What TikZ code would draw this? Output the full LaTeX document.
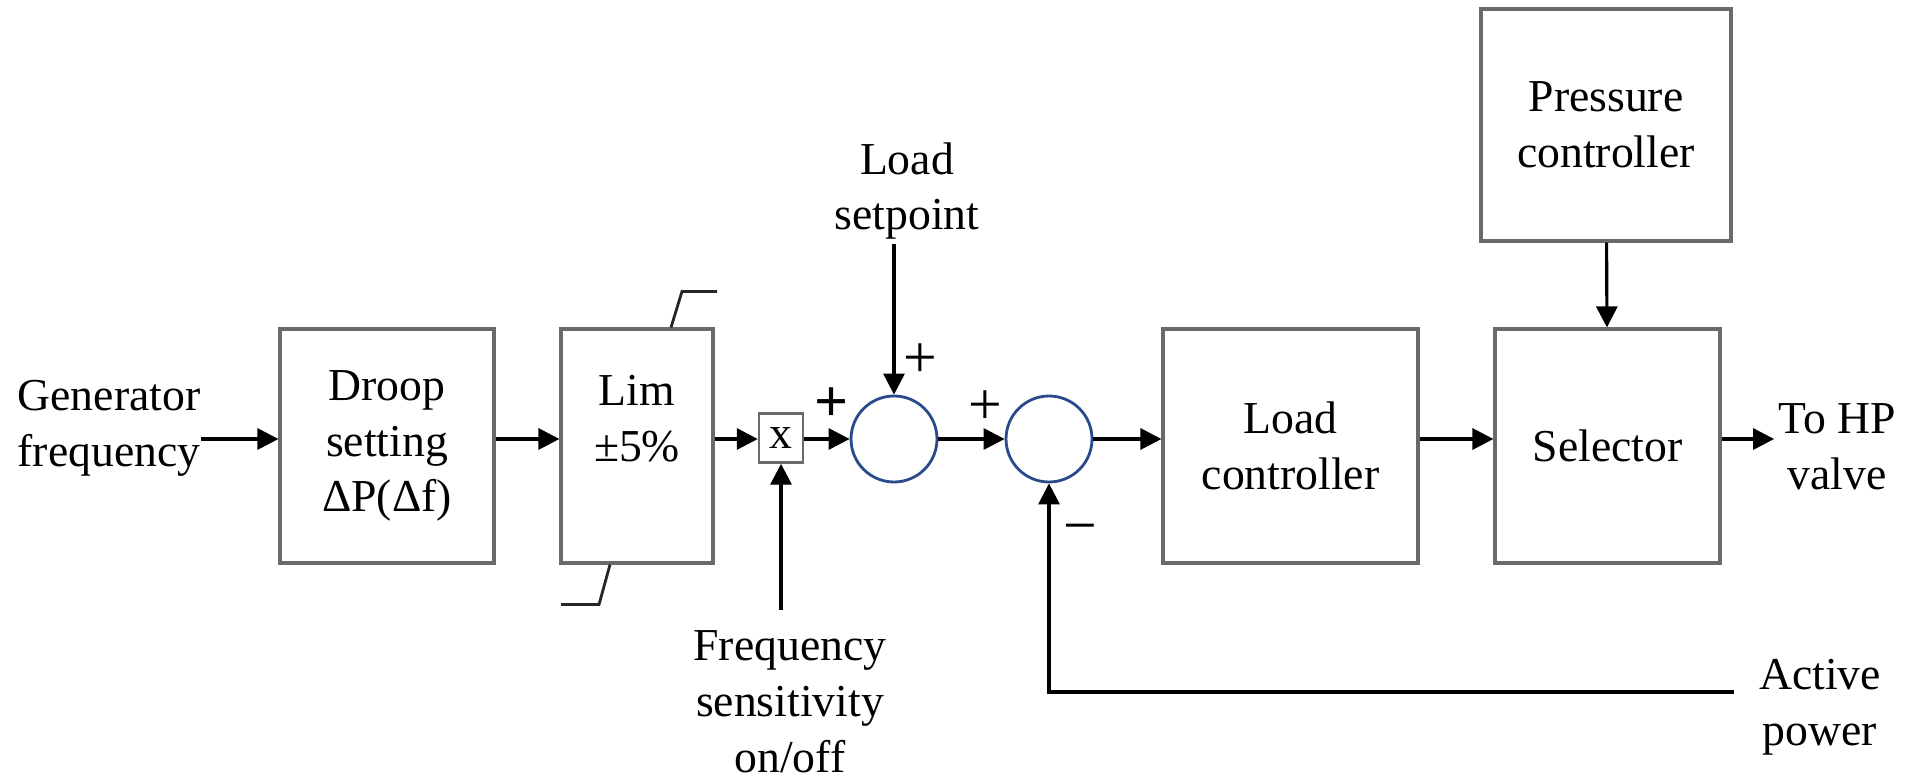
\documentclass[tikz,border=0pt]{standalone}
\usepackage{fontspec}
\setmainfont{Liberation Serif}
\usetikzlibrary{calc,arrows.meta,positioning}
\definecolor{boxgray}{HTML}{6A6A6A}
\definecolor{sumblue}{HTML}{2B4A8C}
\tikzset{
  blk/.style={draw=boxgray,line width=0.9pt,align=center,minimum height=2.34cm,inner sep=2pt},
  sm/.style={circle,draw=sumblue,line width=0.8pt,minimum size=0.86cm,inner sep=0pt},
  ar/.style={-{Triangle[length=2.1mm,width=2.1mm]},line width=0.9pt},
  ln/.style={line width=0.8pt,draw=black!85},
  lbl/.style={align=center,inner sep=1pt},
  sgn/.style={font=\fontsize{17}{17}\selectfont,inner sep=0pt}
}

\begin{document}
\begin{tikzpicture}[font=\fontsize{13}{15.9}\selectfont]
\useasboundingbox (0,0) rectangle (19.15,7.79);
% blocks on the main line
\node[blk,minimum width=2.14cm] (droop) at (3.87,3.33) {Droop\\setting\\ΔP(Δf)};
\node[blk,minimum width=1.52cm] (lim) at (6.37,3.33) {Lim\\±5\%\\\mbox{}};
\node[draw=boxgray,line width=0.7pt,minimum width=0.44cm,minimum height=0.49cm,inner sep=0pt] (mult) at (7.81,3.41) {x};
\node[sm] (s1) at (8.94,3.40) {};
\node[sm] (s2) at (10.49,3.40) {};
\node[blk,minimum width=2.55cm] (load) at (12.905,3.33) {Load\\controller};
\node[blk,minimum width=2.25cm] (sel) at (16.075,3.33) {Selector};
\node[blk,minimum width=2.50cm,minimum height=2.32cm] (press) at (16.06,6.54) {Pressure\\controller};
% outside labels
\node[lbl] (gen) at (1.09,3.51) {Generator\\frequency};
\node[lbl] (lsp) at (9.07,5.88) {Load\\setpoint};
\node[lbl] (fs) at (7.90,0.77) {Frequency\\sensitivity\\on/off};
\node[lbl] (ap) at (18.20,0.72) {Active\\power};
\node[lbl] (hp) at (18.37,3.32) {To HP\\valve};
\coordinate (gin) at (2.01,3.40);
\coordinate (apin) at (17.34,0.87);
\coordinate (fstop) at ([yshift=1.7mm]fs.north);
% signs
\node[sgn,font=\fontsize{17}{17}\selectfont\bfseries] (p1) at (8.32,3.74) {+};
\node[sgn] (p2) at (9.20,4.18) {+};
\node[sgn] (p3) at (9.85,3.71) {+};
\node[sgn] (m1) at (10.80,2.44) {−};
% limiter marks
\draw[ln] ([xshift=3.4mm]lim.north) -- ++(0.11,0.36) -- ++(0.35,0);
\draw[ln] ([xshift=-2.7mm]lim.south) -- ++(-0.11,-0.40) -- ++(-0.38,0);
% connectors
\draw[ar] (gin) -- (droop.west |- gin);
\foreach \p/\q in {droop/lim,lim/mult,mult/s1,s1/s2,s2/load,load/sel}{\draw[ar] (\p.east |- s1) -- (\q.west |- s1);}
\draw[ar] (sel.east |- s1) -- (hp.west |- s1);
\draw[ar] (press) -- (sel);
\draw[ar] (s1 |- lsp.south) -- (s1);
\draw[ar] (fstop -| mult) -- (mult);
\draw[ar] (apin) -| (s2);
\end{tikzpicture}
\end{document}
